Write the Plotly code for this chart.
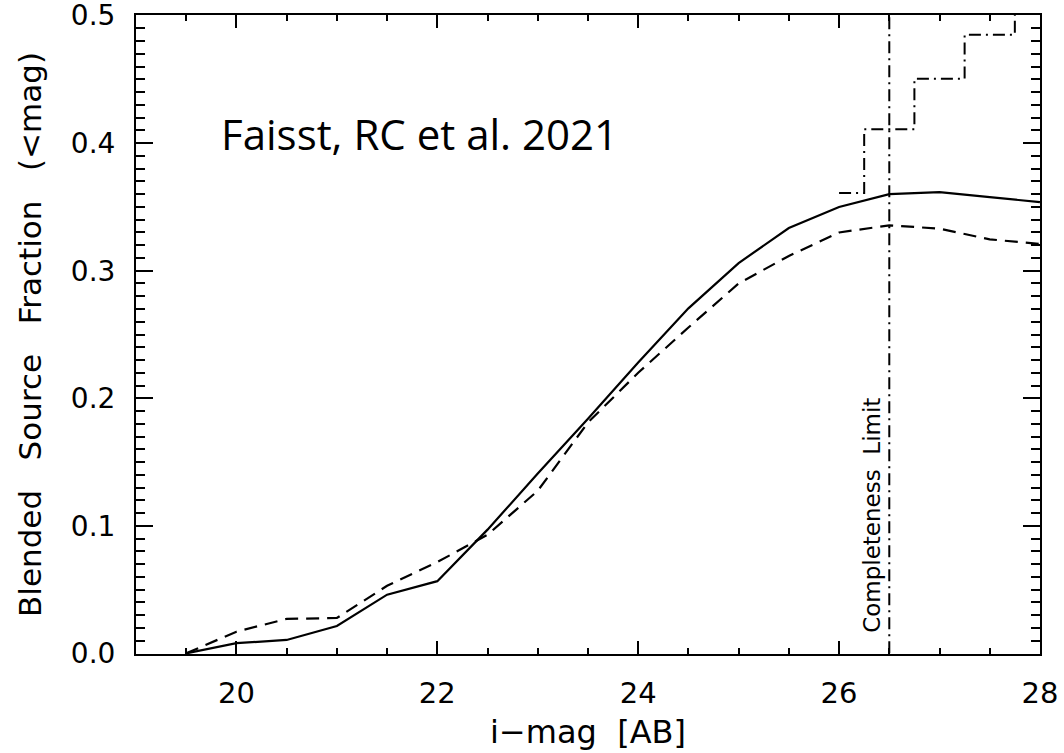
import plotly.graph_objects as go

# ---- data ----
mag = [19.5, 20.0, 20.5, 21.0, 21.5, 22.0, 22.5, 23.0, 23.5, 24.0,
       24.5, 25.0, 25.5, 26.0, 26.5, 27.0, 27.5, 28.0]
frac_solid = [0.0, 0.008, 0.0105, 0.0215, 0.046, 0.0566, 0.097, 0.141, 0.184, 0.228,
              0.2705, 0.306, 0.3335, 0.350, 0.360, 0.3616, 0.3577, 0.3538]
frac_dashed = [0.0, 0.017, 0.027, 0.0277, 0.053, 0.0716, 0.093, 0.1275, 0.181, 0.220,
               0.2555, 0.290, 0.3116, 0.330, 0.3356, 0.333, 0.3246, 0.321]
step_mag = [26.0, 26.5, 27.0, 27.5, 28.0]
step_frac = [0.361, 0.411, 0.4505, 0.485, 0.52]
limit_mag = 26.5
limit_y = [0.0, 0.5]

x_ticks = [20, 22, 24, 26, 28]
y_ticks = [0.0, 0.1, 0.2, 0.3, 0.4, 0.5]
y_ticklabels = ["0.0", "0.1", "0.2", "0.3", "0.4", "0.5"]

FONT = "DejaVu Sans"

fig = go.Figure()
fig.add_trace(go.Scatter(x=mag, y=frac_solid, mode="lines",
                         line=dict(color="black", width=2.2), showlegend=False))
fig.add_trace(go.Scatter(x=mag, y=frac_dashed, mode="lines",
                         line=dict(color="black", width=2.2, dash="13px,8px"), showlegend=False))
fig.add_trace(go.Scatter(x=step_mag, y=step_frac, mode="lines",
                         line=dict(color="black", width=2, shape="hvh", dash="12px,5px,2px,5px"),
                         showlegend=False))
fig.add_trace(go.Scatter(x=[limit_mag, limit_mag], y=limit_y, mode="lines",
                         line=dict(color="black", width=2, dash="12px,5px,2px,5px"),
                         showlegend=False))

fig.add_annotation(x=19.83, y=0.4075, xref="x", yref="y", text="Faisst, RC et al. 2021",
                   showarrow=False, xanchor="left", yanchor="middle",
                   font=dict(family="Open Sans", size=42, color="black"))
fig.add_annotation(x=26.32, y=0.108, xref="x", yref="y", text="Completeness  Limit",
                   showarrow=False, textangle=-90, xanchor="center", yanchor="middle",
                   font=dict(family=FONT, size=23, color="black"))

fig.update_layout(
    width=1064, height=753,
    margin=dict(l=136, r=24, t=15, b=99),
    paper_bgcolor="white", plot_bgcolor="white",
    font=dict(family=FONT, color="black"),
)
fig.update_xaxes(
    range=[19, 28.0005], tickvals=x_ticks, ticktext=[str(v) for v in x_ticks],
    ticks="inside", ticklen=13, tickwidth=2, tickcolor="black",
    minor=dict(dtick=0.5, ticks="inside", ticklen=6, tickwidth=2, tickcolor="black"),
    showline=True, linewidth=2, linecolor="black", mirror="allticks",
    showgrid=False, zeroline=False, automargin=False, ticklabeloverflow="allow",
    tickfont=dict(family=FONT, size=29, color="black"), ticklabelstandoff=12,
    title=dict(text="i\u2212mag  [AB]", font=dict(family=FONT, size=32, color="black"), standoff=12),
)
fig.update_yaxes(
    range=[-0.0005, 0.5005], tickvals=y_ticks, ticktext=y_ticklabels,
    ticks="inside", ticklen=17, tickwidth=2, tickcolor="black",
    minor=dict(dtick=0.01, ticks="inside", ticklen=9, tickwidth=2, tickcolor="black"),
    showline=True, linewidth=2, linecolor="black", mirror="allticks",
    showgrid=False, zeroline=False, automargin=False, ticklabeloverflow="allow",
    tickfont=dict(family=FONT, size=28, color="black"), ticklabelstandoff=13,
    title=dict(text="Blended   Source   Fraction   (&lt;mag)",
               font=dict(family=FONT, size=31, color="black"), standoff=20),
)

fig.write_html("out.html", config={"displayModeBar": False},
               post_script="document.body.style.margin='0';document.body.style.overflow='hidden';")
